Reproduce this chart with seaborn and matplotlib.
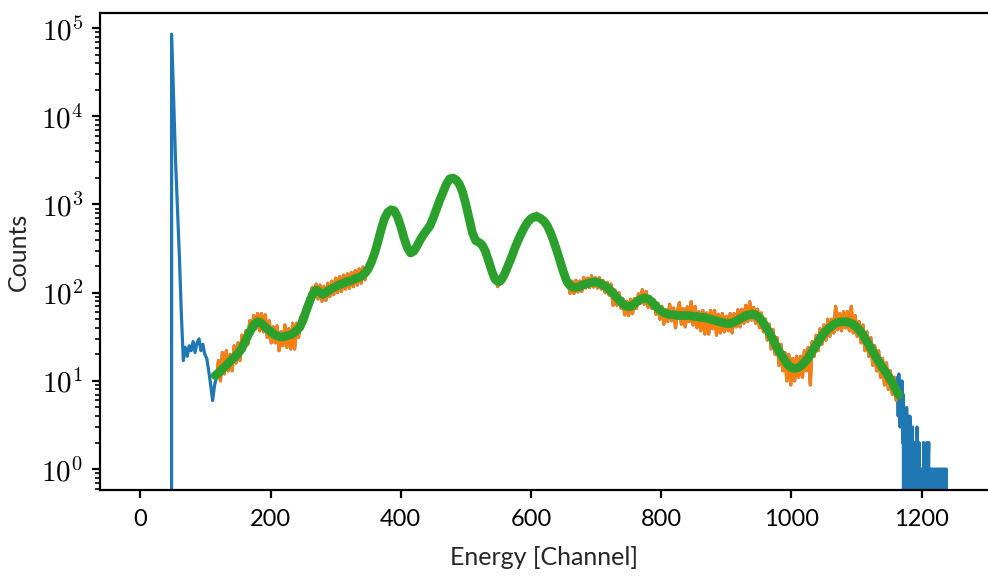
import numpy as np
import pandas as pd
import matplotlib
matplotlib.use("Agg")
import matplotlib.pyplot as plt
from matplotlib.ticker import FuncFormatter
import seaborn as sns

# Raw spectrum, split into three segments (start channel, channel step, counts)

# Below the fit window: pedestal peak and low-energy tail
pre_start, pre_step = 45, 3
pre_counts = [0, 85000, 16000, 3200, 900, 250, 56, 17, 24, 19, 25, 22, 28, 21,
              27, 30, 22, 26, 20, 18, 13, 9, 6, 9]

# Inside the fit window
fit_start, fit_step_raw = 117, 3
fit_window_counts = [
    11, 17, 10, 21, 12, 22, 13, 20, 13, 25, 16, 27, 17, 33, 22, 37, 26, 48, 35, 55,
    39, 58, 37, 58, 36, 56, 31, 48, 27, 41, 27, 42, 22, 36, 25, 43, 24, 39, 23, 45,
    23, 45, 31, 53, 40, 66, 54, 87, 75, 115, 92, 125, 85, 122, 80, 118, 82, 128, 90, 135,
    95, 146, 100, 152, 103, 158, 110, 163, 112, 170, 117, 178, 122, 186, 128, 195, 140, 198, 174, 237,
    228, 305, 318, 425, 475, 614, 671, 796, 798, 900, 839, 885, 749, 725, 566, 520, 396, 382, 293, 305,
    269, 313, 304, 368, 366, 441, 439, 510, 504, 588, 601, 729, 795, 963, 1048, 1267, 1352, 1591, 1715, 1938,
    1936, 2035, 1901, 1897, 1705, 1601, 1352, 1185, 902, 742, 566, 503, 399, 405, 356, 384, 326, 336, 268, 260,
    193, 188, 138, 153, 117, 151, 127, 171, 159, 212, 206, 269, 271, 350, 354, 441, 449, 543, 542, 640,
    640, 720, 689, 753, 796, 695, 720, 638, 657, 564, 562, 455, 441, 342, 329, 245, 242, 173, 178, 123,
    143, 98, 135, 98, 138, 102, 135, 103, 149, 113, 146, 114, 155, 116, 148, 113, 148, 110, 137, 100,
    131, 94, 125, 72, 107, 72, 100, 67, 86, 56, 80, 55, 84, 58, 86, 66, 97, 76, 108, 74,
    103, 68, 90, 66, 83, 57, 76, 50, 70, 44, 64, 47, 74, 48, 67, 40, 63, 77, 44, 66,
    41, 69, 47, 79, 43, 70, 40, 61, 37, 63, 34, 59, 34, 63, 39, 63, 33, 57, 35, 58,
    36, 54, 37, 58, 35, 58, 41, 64, 41, 65, 45, 72, 47, 79, 49, 68, 45, 65, 40, 59,
    36, 50, 29, 44, 23, 38, 20, 31, 15, 26, 13, 21, 10, 20, 9, 18, 10, 19, 11, 19,
    11, 22, 13, 24, 9, 28, 19, 33, 22, 39, 26, 43, 29, 50, 32, 50, 35, 70, 38, 58,
    37, 61, 40, 61, 37, 70, 35, 55, 32, 47, 27, 43, 22, 36, 19, 31, 15, 25, 13, 22,
    11, 18, 9, 16, 8, 13, 7, 11, 6,
]

# Above the fit window: sparse high-energy tail, channel by channel
post_start, post_step = 1162, 1
post_counts = [
    8, 11, 4, 12, 6, 3, 9, 5, 10, 2, 7, 0, 4, 3, 0, 5, 2, 0, 3, 0,
    4, 1, 0, 2, 3, 0, 2, 0, 1, 2, 0, 3, 1, 0, 2, 0, 1, 1, 0, 1,
    0, 2, 1, 0, 1, 0, 2, 0, 1, 2, 0, 1, 0, 1, 0, 1, 0, 1, 1, 0,
    1, 0, 1, 0, 1, 0, 1, 1, 0, 1, 0, 1, 0, 1, 1, 0, 1, 0, 0,
]

# Smoothed fit over the window, every 5 channels from 115 to 1165
fit_start_ch, fit_step = 115, 5
fit_counts = [
    11.5, 12.3, 13.5, 14.5, 15.8, 17.4, 18.6, 20.4, 22.9, 26.9, 32.4, 38.0, 43.7, 46.8, 45.7, 41.7,
    38.9, 36.3, 33.9, 32.4, 31.6, 31.6, 32.4, 33.1, 34.7, 37.2, 40.7, 49.0, 63.1, 79.4, 97.7, 107,
    102, 95.5, 100, 107, 112, 117, 123, 126, 132, 135, 138, 145, 148, 155, 166, 186,
    224, 282, 380, 525, 692, 813, 871, 851, 724, 562, 417, 324, 282, 295, 339, 398,
    457, 513, 575, 708, 891, 1122, 1380, 1698, 1950, 1995, 1905, 1698, 1380, 1000, 692, 479,
    389, 372, 347, 295, 229, 174, 141, 132, 141, 166, 204, 251, 316, 389, 468, 550,
    631, 692, 724, 724, 692, 646, 575, 479, 380, 295, 224, 170, 135, 120, 115, 115,
    117, 123, 126, 129, 132, 132, 129, 123, 117, 110, 100, 91.2, 83.2, 75.9, 70.8, 69.2,
    70.8, 75.9, 81.3, 85.1, 87.1, 85.1, 79.4, 72.4, 66.1, 61.7, 58.9, 57.5, 56.2, 56.2, 55.0, 55.0,
    55.0, 55.0, 55.0, 53.7, 53.7, 52.5, 52.5, 51.3, 50.1, 49.0, 47.9, 46.8, 45.7, 44.7, 44.7, 45.7,
    47.9, 50.1, 52.5, 55.0, 56.2, 57.5, 56.2, 52.5, 47.9, 41.7, 36.3, 30.9, 26.3, 22.4, 19.5, 17.0,
    15.1, 14.1, 13.8, 14.1, 14.8, 16.2, 17.8, 20.4, 23.4, 26.9, 30.9, 34.7, 38.0, 40.7, 43.7, 45.7,
    46.8, 46.8, 46.8, 45.7, 43.7, 40.7, 37.2, 33.1, 28.8, 25.1, 21.4, 18.6, 16.2, 14.1, 12.6, 11.0,
    9.55, 8.13, 6.92,
]

x_ticks = [0, 200, 400, 600, 800, 1000, 1200]


def segment(start, step, values):
    return pd.DataFrame({"channel": start + step * np.arange(len(values)),
                         "counts": np.asarray(values, dtype=float)})


window = segment(fit_start, fit_step_raw, fit_window_counts)
raw = pd.concat([segment(pre_start, pre_step, pre_counts), window,
                 segment(post_start, post_step, post_counts)], ignore_index=True)
fit = segment(fit_start_ch, fit_step, fit_counts)

sns.set_theme(style="ticks")
plt.rcParams.update({
    "font.family": ["Lato", "DejaVu Sans"],
    "mathtext.fontset": "cm",
    "axes.edgecolor": "black",
    "axes.linewidth": 1.6,
    "xtick.color": "black",
    "ytick.color": "black",
    "xtick.major.width": 1.6,
    "ytick.major.width": 1.6,
    "ytick.minor.width": 1.2,
    "xtick.major.size": 6,
    "ytick.major.size": 6,
    "ytick.minor.size": 3.5,
})

fig = plt.figure(figsize=(9.88, 5.76), dpi=100)
ax = fig.add_axes([100 / 988, 86 / 576, 888 / 988, 477 / 576])

palette = sns.color_palette("tab10")
sns.lineplot(data=raw, x="channel", y="counts", ax=ax, color=palette[0],
             linewidth=2.3, estimator=None, sort=False)
sns.lineplot(data=window, x="channel", y="counts", ax=ax, color=palette[1],
             linewidth=2.3, estimator=None, sort=False)
sns.lineplot(data=fit, x="channel", y="counts", ax=ax, color=palette[2],
             linewidth=6.3, estimator=None, sort=False)

ax.set_yscale("log")
ax.set_xlim(-62, 1302)
ax.set_ylim(0.58, 1.48e5)
ax.set_xticks(x_ticks)
ax.set_xticklabels([str(t) for t in x_ticks])
ax.yaxis.set_major_formatter(
    FuncFormatter(lambda v, pos: f"$10^{{{int(round(np.log10(v)))}}}$"))
ax.tick_params(axis="x", labelsize=17, pad=8)
ax.tick_params(axis="y", which="major", labelsize=21, pad=6)
ax.spines["right"].set_visible(False)

ax.set_xlabel("Energy [Channel]", fontsize=18, labelpad=11)
ax.set_ylabel("Counts", fontsize=18, labelpad=8)

fig.savefig("out.png", dpi=100)
